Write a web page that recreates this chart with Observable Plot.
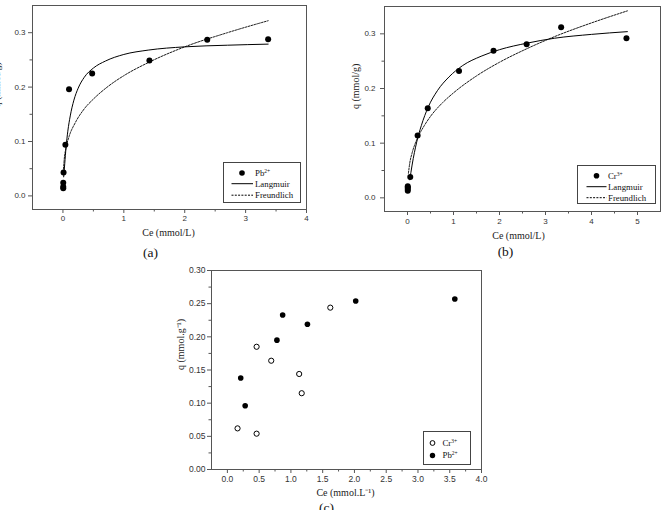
<!DOCTYPE html>
<html>
<head>
<meta charset="utf-8">
<script src="https://cdn.jsdelivr.net/npm/d3@7"></script>
<script src="https://cdn.jsdelivr.net/npm/@observablehq/plot@0.6"></script>
<style>
  body { margin: 0; background: #fff; }
  #fig { position: relative; width: 663px; height: 510px; overflow: hidden; background: #fff; }
  .legend { position: absolute; box-sizing: border-box; border: 1px solid #444; background: #fff; }
  .legend span { position: absolute; font-family: "Liberation Serif", "Times New Roman", serif; font-size: 8.8px; line-height: 10px; color: #111; white-space: nowrap; }
  .legend sup { font-size: 5.5px; vertical-align: 3.5px; line-height: 0; }
</style>
</head>
<body>
<div id="fig"></div>
<script>
// ---- (a) Pb2+ isotherm: measured points and fitted curves ----
const pbCe = [0.005, 0.005, 0.005, 0.01, 0.04, 0.10, 0.48, 1.42, 2.37, 3.37];
const pbQ  = [0.014, 0.017, 0.024, 0.043, 0.094, 0.196, 0.225, 0.249, 0.287, 0.288];
const pbLangCe = [0.012, 0.03, 0.05, 0.08, 0.12, 0.18, 0.25, 0.35, 0.5, 0.7, 1.0, 1.4, 2.0, 2.7, 3.37];
const pbLangQ  = [0.035, 0.060, 0.088, 0.119, 0.147, 0.176, 0.198, 0.218, 0.235, 0.248, 0.260, 0.268, 0.274, 0.277, 0.279];
const pbFreuCe = [0.005, 0.02, 0.05, 0.1, 0.2, 0.35, 0.5, 0.75, 1.0, 1.4, 2.0, 2.7, 3.37];
const pbFreuQ  = [0.043, 0.066, 0.088, 0.109, 0.134, 0.160, 0.178, 0.202, 0.221, 0.245, 0.274, 0.300, 0.322];

// ---- (b) Cr3+ isotherm ----
const crCe = [0.006, 0.006, 0.006, 0.006, 0.06, 0.22, 0.44, 1.12, 1.87, 2.59, 3.34, 4.76];
const crQ  = [0.013, 0.016, 0.019, 0.021, 0.038, 0.114, 0.164, 0.232, 0.269, 0.281, 0.312, 0.292];
const crLangCe = [0.05, 0.1, 0.2, 0.3, 0.45, 0.65, 0.9, 1.2, 1.6, 2.0, 2.6, 3.2, 4.0, 4.78];
const crLangQ  = [0.033, 0.060, 0.102, 0.132, 0.166, 0.196, 0.221, 0.242, 0.259, 0.271, 0.283, 0.292, 0.299, 0.304];
const crFreuCe = [0.02, 0.05, 0.1, 0.2, 0.35, 0.5, 0.75, 1.0, 1.5, 2.0, 2.6, 3.2, 4.0, 4.78];
const crFreuQ  = [0.045, 0.064, 0.082, 0.106, 0.130, 0.149, 0.173, 0.192, 0.223, 0.248, 0.273, 0.295, 0.320, 0.342];

// ---- (c) both ions ----
const c3Ce = [0.16, 0.46, 0.46, 0.69, 1.13, 1.17, 1.62];
const c3Q  = [0.062, 0.054, 0.185, 0.164, 0.144, 0.115, 0.244];
const p2Ce = [0.21, 0.28, 0.78, 0.87, 1.26, 2.02, 3.58];
const p2Q  = [0.138, 0.096, 0.195, 0.233, 0.219, 0.254, 0.257];

// ---- tick values ----
const ticksAB_y = [0, 0.1, 0.2, 0.3];
const ticksAB_yMinor = [0.05, 0.15, 0.25];
const ticksA_x = [0, 1, 2, 3, 4];
const ticksA_xMinor = [0.5, 1.5, 2.5, 3.5];
const ticksB_x = [0, 1, 2, 3, 4, 5];
const ticksB_xMinor = [0.5, 1.5, 2.5, 3.5, 4.5];
const ticksC_x = [0, 0.5, 1, 1.5, 2, 2.5, 3, 3.5, 4];
const ticksC_xMinor = [0.25, 0.75, 1.25, 1.75, 2.25, 2.75, 3.25, 3.75];
const ticksC_y = [0, 0.05, 0.1, 0.15, 0.2, 0.25, 0.3];
const ticksC_yMinor = [0.025, 0.075, 0.125, 0.175, 0.225, 0.275];

const SANS = "Liberation Sans, Arial, sans-serif";
const SERIF = "Liberation Serif, Times New Roman, serif";
const AXIS = "#555";

const rows = (xs, ys) => xs.map((x, i) => ({x, y: ys[i]}));

function axes(o) {
  return [
    Plot.frame({stroke: AXIS, strokeWidth: 1}),
    Plot.axisX(o.xMajor, {tickSize: 4, tickPadding: o.xPad, tickFormat: o.xFmt, stroke: AXIS, fill: "#333", fontSize: o.fs, fontFamily: SANS, label: null}),
    Plot.axisX(o.xMinor, {tickSize: 2.5, tickFormat: () => "", stroke: AXIS, label: null}),
    Plot.axisY(o.yMajor, {tickSize: 4, tickPadding: o.yPad, tickFormat: o.yFmt, stroke: AXIS, fill: "#333", fontSize: o.fs, fontFamily: SANS, label: null}),
    Plot.axisY(o.yMinor, {tickSize: 2.5, tickFormat: () => "", stroke: AXIS, label: null}),
    Plot.text([o.xTitle], {frameAnchor: "bottom", dx: o.xTitleDx, dy: o.xTitleDy, fontFamily: SERIF, fontSize: 10, fill: "#222"}),
    Plot.text([o.yTitle], {frameAnchor: "left", dx: o.yTitleDx, rotate: -90, fontFamily: SERIF, fontSize: 10, fill: "#222"}),
    Plot.text([o.tag], {frameAnchor: "bottom", dx: o.tagDx, dy: o.tagDy, fontFamily: SERIF, fontSize: 13.5, fill: "#111"})
  ];
}

const fig = document.getElementById("fig");

function place(el, left, top) {
  el.style.position = "absolute";
  el.style.left = left + "px";
  el.style.top = top + "px";
  fig.appendChild(el);
}

function makePlot(o) {
  return Plot.plot({
    width: o.width, height: o.height,
    marginLeft: o.ml, marginRight: o.mr, marginTop: o.mt, marginBottom: o.mb,
    x: {domain: o.xDomain, label: null},
    y: {domain: o.yDomain, label: null},
    style: {background: "transparent", overflow: "visible", fontFamily: SANS, color: "#333"},
    marks: o.marks
  });
}

function legend(left, top, width, height, items) {
  const box = document.createElement("div");
  box.className = "legend";
  box.style.left = left + "px";
  box.style.top = top + "px";
  box.style.width = width + "px";
  box.style.height = height + "px";
  const svg = d3.create("svg").attr("width", width).attr("height", height)
    .style("position", "absolute").style("left", "-1px").style("top", "-1px");
  for (const it of items) {
    if (it.sym === "dot") svg.append("circle").attr("cx", it.sx).attr("cy", it.y).attr("r", it.r).attr("fill", "#000");
    if (it.sym === "open") svg.append("circle").attr("cx", it.sx).attr("cy", it.y).attr("r", it.r).attr("fill", "none").attr("stroke", "#000").attr("stroke-width", 1);
    if (it.sym === "solid" || it.sym === "dash") {
      svg.append("line").attr("x1", it.x0).attr("x2", it.x1).attr("y1", it.y).attr("y2", it.y)
        .attr("stroke", "#000").attr("stroke-width", 1)
        .attr("stroke-dasharray", it.sym === "dash" ? "2,1.3" : null);
    }
    const s = document.createElement("span");
    s.innerHTML = it.label;
    s.style.left = (it.tx - 1) + "px";
    s.style.top = (it.y - 6) + "px";
    box.appendChild(s);
  }
  box.appendChild(svg.node());
  fig.appendChild(box);
}

// (a)
place(makePlot({
  width: 330, height: 248, ml: 32, mr: 24, mt: 5, mb: 39,
  xDomain: [-0.5, 4], yDomain: [-0.025, 0.35],
  marks: [
    ...axes({xMajor: ticksA_x, xMinor: ticksA_xMinor, yMajor: ticksAB_y, yMinor: ticksAB_yMinor,
      xFmt: d3.format("d"), yFmt: d3.format(".1f"), fs: 8, xPad: 2, yPad: 3,
      xTitle: "Ce (mmol/L)", xTitleDx: -1, xTitleDy: 26,
      yTitle: "q (mmol/g)", yTitleDx: -36,
      tag: "(a)", tagDx: -19, tagDy: 47}),
    Plot.line(rows(pbFreuCe, pbFreuQ), {x: "x", y: "y", curve: "monotone-x", stroke: "#000", strokeWidth: 0.9, strokeDasharray: "2,1.3"}),
    Plot.line(rows(pbLangCe, pbLangQ), {x: "x", y: "y", curve: "monotone-x", stroke: "#000", strokeWidth: 1}),
    Plot.dot(rows(pbCe, pbQ), {x: "x", y: "y", r: 3, fill: "#000", stroke: "none"})
  ]
}), 0, 0);

// (b)
place(makePlot({
  width: 333, height: 248, ml: 54, mr: 3, mt: 6, mb: 37,
  xDomain: [-0.5, 5.5], yDomain: [-0.025, 0.35],
  marks: [
    ...axes({xMajor: ticksB_x, xMinor: ticksB_xMinor, yMajor: ticksAB_y, yMinor: ticksAB_yMinor,
      xFmt: d3.format("d"), yFmt: d3.format(".1f"), fs: 8, xPad: 3, yPad: 5,
      xTitle: "Ce (mmol/L)", xTitleDx: -4, xTitleDy: 27,
      yTitle: "q (mmol/g)", yTitleDx: -29,
      tag: "(b)", tagDx: -17, tagDy: 44}),
    Plot.line(rows(crFreuCe, crFreuQ), {x: "x", y: "y", curve: "monotone-x", stroke: "#000", strokeWidth: 0.9, strokeDasharray: "2,1.3"}),
    Plot.line(rows(crLangCe, crLangQ), {x: "x", y: "y", curve: "monotone-x", stroke: "#000", strokeWidth: 1}),
    Plot.dot(rows(crCe, crQ), {x: "x", y: "y", r: 3, fill: "#000", stroke: "none"})
  ]
}), 330, 0);

// (c)
place(makePlot({
  width: 340, height: 255, ml: 51, mr: 19, mt: 15, mb: 41,
  xDomain: [-0.25, 4], yDomain: [0, 0.3],
  marks: [
    ...axes({xMajor: ticksC_x, xMinor: ticksC_xMinor, yMajor: ticksC_y, yMinor: ticksC_yMinor,
      xFmt: d3.format(".1f"), yFmt: d3.format(".2f"), fs: 8.5, xPad: 2, yPad: 2,
      xTitle: "Ce (mmol.L⁻¹)", xTitleDx: -1, xTitleDy: 26,
      yTitle: "q (mmol.g⁻¹)", yTitleDx: -31,
      tag: "(c)", tagDx: -20, tagDy: 42}),
    Plot.dot(rows(c3Ce, c3Q), {x: "x", y: "y", r: 2.6, fill: "#fff", stroke: "#000", strokeWidth: 1}),
    Plot.dot(rows(p2Ce, p2Q), {x: "x", y: "y", r: 2.8, fill: "#000", stroke: "none"})
  ]
}), 160, 255);

// legends
legend(223, 162, 78, 41, [
  {sym: "dot", sx: 19, r: 2.8, y: 11, tx: 32, label: "Pb<sup>2+</sup>"},
  {sym: "solid", x0: 8.5, x1: 30, y: 21.7, tx: 32, label: "Langmuir"},
  {sym: "dash", x0: 8.5, x1: 30, y: 33.2, tx: 32, label: "Freundlich"}
]);
legend(577, 165, 79, 39, [
  {sym: "dot", sx: 19.5, r: 2.8, y: 10.7, tx: 31, label: "Cr<sup>3+</sup>"},
  {sym: "solid", x0: 9.5, x1: 29.5, y: 21.7, tx: 31, label: "Langmuir"},
  {sym: "dash", x0: 9.5, x1: 29.5, y: 32.7, tx: 31, label: "Freundlich"}
]);
legend(423, 430.5, 48, 34, [
  {sym: "open", sx: 9.5, r: 2.4, y: 12, tx: 19.5, label: "Cr<sup>3+</sup>"},
  {sym: "dot", sx: 9.5, r: 2.7, y: 24.5, tx: 19.5, label: "Pb<sup>2+</sup>"}
]);
</script>
</body>
</html>
